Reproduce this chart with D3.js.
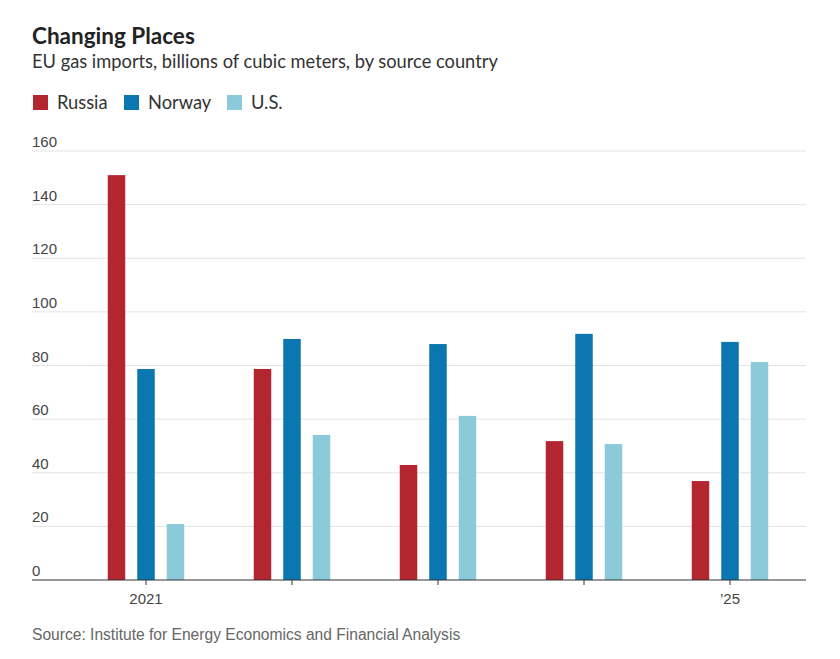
<!DOCTYPE html>
<html>
<head>
<meta charset="utf-8">
<script src="https://cdn.jsdelivr.net/npm/d3@7"></script>
<style>
  body { margin: 0; background: #fff; }
  svg { display: block; }
</style>
</head>
<body>
<div id="chart"></div>
<script>
/* Changing Places — EU gas imports by source country */

const years = ['2021', '2022', '2023', '2024', '2025'];
const yearLabels = { '2021': '2021', '2025': '\u201925' };
const series = ['Russia', 'Norway', 'U.S.'];
const russia = [151, 78.7, 42.9, 51.8, 36.9];
const norway = [78.7, 89.9, 88.0, 91.8, 88.8];
const us = [20.9, 54.1, 61.2, 50.7, 81.3];
const yTicks = [0, 20, 40, 60, 80, 100, 120, 140, 160];
const colors = ['#b3262f', '#0b77b0', '#8dcad9'];

(function() {
    const width = 840, height = 659;
    const left = 32, right = 806, top = 151, bottom = 580;
    const narrow = '"Liberation Sans Narrow", "Arial Narrow", "Liberation Sans", sans-serif';

    const svg = d3.select('#chart').append('svg')
        .attr('width', width)
        .attr('height', height);

    // Title block
    svg.append('text')
        .attr('x', 32).attr('y', 44)
        .attr('font-family', 'Lato, sans-serif')
        .attr('font-weight', 700)
        .attr('font-size', '22.5px')
        .attr('fill', '#222')
        .text('Changing Places');

    svg.append('text')
        .attr('x', 32).attr('y', 68)
        .attr('font-family', 'Lato, sans-serif')
        .attr('font-size', '18.3px')
        .attr('fill', '#333')
        .text('EU gas imports, billions of cubic meters, by source country');

    // Legend
    const legendX = [33, 124, 227];
    series.forEach(function(s, i) {
        const lg = svg.append('g').attr('transform', `translate(${legendX[i]},95)`);
        lg.append('rect').attr('width', 15).attr('height', 15).attr('fill', colors[i]);
        lg.append('text')
            .attr('x', 24).attr('y', 14)
            .attr('font-family', 'Lato, sans-serif')
            .attr('font-size', '18.3px')
            .attr('fill', '#333')
            .text(s);
    });

    const y = d3.scaleLinear().domain([0, 160]).range([bottom, top]);
    const x0 = d3.scaleBand().domain(years).range([73, 803]);
    const x1 = d3.scalePoint().domain(series).range([-29.5, 29.5]);
    const barW = 17.5;

    // Gridlines and y labels
    yTicks.forEach(function(t) {
        if (t > 0) {
            svg.append('line')
                .attr('x1', left).attr('x2', right)
                .attr('y1', y(t)).attr('y2', y(t))
                .attr('stroke', '#e3e3e3')
                .attr('stroke-width', 1);
        }
        svg.append('text')
            .attr('x', left).attr('y', y(t) - 4)
            .attr('font-family', narrow)
            .attr('font-size', '15px')
            .attr('fill', '#444')
            .text(t);
    });

    // Bars
    const data = [russia, norway, us];
    years.forEach(function(yr, i) {
        const cx = x0(yr) + x0.bandwidth() / 2;
        series.forEach(function(s, j) {
            const v = data[j][i];
            svg.append('rect')
                .attr('x', cx + x1(s) - barW / 2)
                .attr('y', y(v))
                .attr('width', barW)
                .attr('height', y(0) - y(v))
                .attr('fill', colors[j]);
        });
    });

    // X axis
    const xAxis = d3.axisBottom(x0)
        .tickSize(5)
        .tickSizeOuter(0)
        .tickFormat(d => yearLabels[d] || '');

    const ax = svg.append('g')
        .attr('transform', `translate(0,${bottom})`)
        .call(xAxis);
    ax.select('.domain').remove();
    ax.append('line')
        .attr('x1', left).attr('x2', right)
        .attr('stroke', '#333').attr('stroke-width', 1.2);
    ax.selectAll('.tick line').attr('stroke', '#333');
    ax.selectAll('.tick text')
        .attr('font-family', narrow)
        .attr('font-size', '15px')
        .attr('fill', '#444')
        .attr('dy', '1.05em');

    // Source
    svg.append('text')
        .attr('x', 32).attr('y', 640)
        .attr('font-family', narrow)
        .attr('font-size', '15.6px')
        .attr('fill', '#666')
        .text('Source: Institute for Energy Economics and Financial Analysis');
})();
</script>
</body>
</html>
